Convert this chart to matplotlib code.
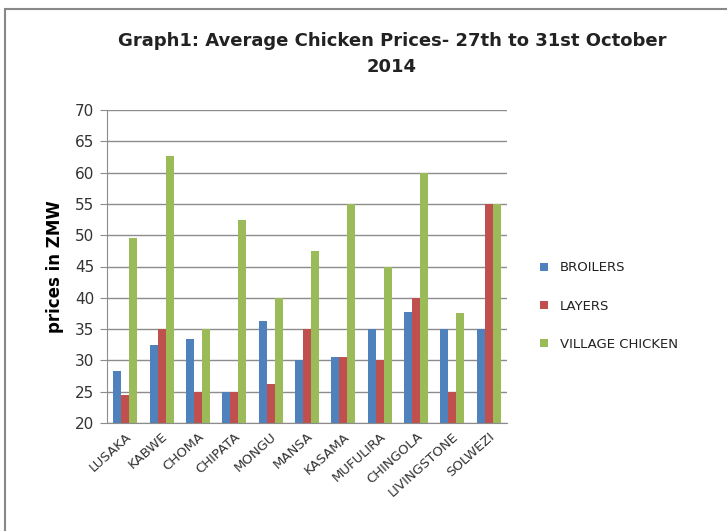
import numpy as np
import matplotlib.pyplot as plt
from matplotlib.patches import Rectangle

towns = ['LUSAKA', 'KABWE', 'CHOMA', 'CHIPATA', 'MONGU', 'MANSA', 'KASAMA',
         'MUFULIRA', 'CHINGOLA', 'LIVINGSTONE', 'SOLWEZI']
broilers = [28.3, 32.5, 33.4, 25, 36.3, 30, 30.6, 35, 37.7, 35, 35]
layers = [24.5, 35, 25, 25, 26.2, 35, 30.6, 30, 40, 25, 55]
village = [49.5, 62.7, 35, 52.5, 40, 47.5, 55, 45, 60, 37.5, 55]

W, H = 727, 531
fig = plt.figure(figsize=(W / 100, H / 100), dpi=100)

# outer chart border (right/bottom edges fall outside the picture)
fig.patches.append(Rectangle((5 / W, -0.1), 1.2, 1 - 9 / H + 0.1, transform=fig.transFigure,
                             fill=False, edgecolor='#888888', linewidth=1.5))

ax = fig.add_axes([107 / W, 1 - 423 / H, 400 / W, 313 / H])

x = np.arange(len(towns))
bw = 0.22
ax.bar(x - bw, broilers, bw, color='#4F81BD', label='BROILERS')
ax.bar(x, layers, bw, color='#C0504D', label='LAYERS')
ax.bar(x + bw, village, bw, color='#9BBB59', label='VILLAGE CHICKEN')

ax.set_ylim(20, 70)
ax.set_xlim(-0.5, len(towns) - 0.5)
ax.set_yticks(range(20, 71, 5))
ax.yaxis.grid(True, color='#8c8c8c', linewidth=1)
ax.set_axisbelow(True)
for s in ['top', 'right']:
    ax.spines[s].set_visible(False)
ax.spines['left'].set_color('#8c8c8c')
ax.spines['bottom'].set_color('#8c8c8c')
ax.tick_params(axis='y', length=5, color='#8c8c8c', labelsize=11, pad=4, labelcolor='#333333')
ax.tick_params(axis='x', length=0, labelsize=9.5, pad=5)
ax.set_xticks(x)
ax.set_xticklabels(towns, rotation=42, ha='right', rotation_mode='anchor', color='#333333')
ax.set_ylabel('prices in ZMW', fontsize=12, fontweight='bold', labelpad=8)

fig.text(392 / W, 1 - 54 / H, 'Graph1: Average Chicken Prices- 27th to 31st October\n2014',
         ha='center', va='center', fontsize=13, fontweight='bold', linespacing=1.6,
         color='#222222')

fig.legend(loc='center left', bbox_to_anchor=(528 / W, 1 - 306 / H), frameon=False,
           fontsize=9.5, handlelength=0.6, handleheight=0.6, labelspacing=1.9,
           handletextpad=0.9, labelcolor='#222222')

fig.savefig('out.png', dpi=100)
